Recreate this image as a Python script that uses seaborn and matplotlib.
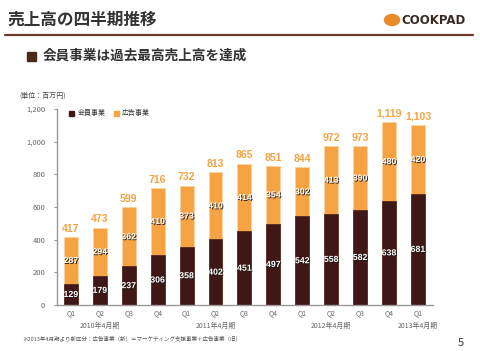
import matplotlib
matplotlib.use("Agg")
import matplotlib.pyplot as plt
import matplotlib.patheffects as pe
from matplotlib.patches import Rectangle, Circle
import seaborn as sns
import pandas as pd
import numpy as np

# ---- data ----
quarters = ["Q1", "Q2", "Q3", "Q4", "Q1", "Q2", "Q3", "Q4", "Q1", "Q2", "Q3", "Q4", "Q1"]
member = [129, 179, 237, 306, 358, 402, 451, 497, 542, 558, 582, 638, 681]
ad = [287, 294, 362, 410, 373, 410, 414, 354, 302, 413, 390, 480, 420]
totals = ["417", "473", "599", "716", "732", "813", "865", "851", "844", "972", "973", "1,119", "1,103"]
fiscal_labels = ["2010年4月期", "2011年4月期", "2012年4月期", "2013年4月期"]
fiscal_pos = [1, 5, 9, 12]
series_names = ["会員事業", "広告事業"]
yticks = [0, 200, 400, 600, 800, 1000, 1200]

BROWN = "#3e1716"
ORANGE = "#f6a443"
GRAY = "#666666"

sns.set_style("white")
plt.rcParams["font.family"] = ["Noto Sans CJK JP", "DejaVu Sans"]

W, H = 480, 351
fig = plt.figure(figsize=(W / 100, H / 100), dpi=100)

def fx(x):
    return x / W

def fy(y):
    return 1 - y / H

ax = fig.add_axes([fx(57), fy(305), fx(433) - fx(57), fy(109) - fy(305)])

n = len(member)
df = pd.DataFrame({
    "pos": [str(i) for i in range(n)],
    "stack": [m + a for m, a in zip(member, ad)],
    "member": member,
})
order = [str(i) for i in range(n)]

sns.barplot(data=df, x="pos", y="stack", order=order, color=ORANGE, width=0.48,
            saturation=1, ax=ax, edgecolor="#f9d3a0", linewidth=0.6)
sns.barplot(data=df, x="pos", y="member", order=order, color=BROWN, width=0.48,
            saturation=1, ax=ax, edgecolor="#5a2a22", linewidth=0.6)

shadow = [pe.SimplePatchShadow(offset=(0.7, -0.7), shadow_rgbFace="#1a1a1a", alpha=0.9), pe.Normal()]
for i in range(n):
    ax.text(i, member[i] / 2, str(member[i]), ha="center", va="center", color="white",
            fontsize=6.3, fontweight="bold", family="Liberation Sans", path_effects=shadow)
    ax.text(i, member[i] + ad[i] / 2, str(ad[i]), ha="center", va="center", color="white",
            fontsize=6.3, fontweight="bold", family="Liberation Sans", path_effects=shadow)
    ax.annotate(totals[i], (i, member[i] + ad[i]), xytext=(0, 2.5), textcoords="offset points",
                ha="center", va="bottom", color=ORANGE, fontsize=7.6, fontweight="bold",
                family="Liberation Sans")

ax.set_xlim(-0.48, n - 0.48)
ax.set_ylim(0, 1200)
ax.set_yticks(yticks)
ax.set_yticklabels([f"{v:,}" for v in yticks])
ax.set_xticks(range(n))
ax.set_xticklabels(quarters)
ax.set_xticks([i - 0.48 for i in range(n + 1)], minor=True)
ax.tick_params(axis="x", which="major", length=0, pad=3, labelsize=5, labelcolor=GRAY)
ax.tick_params(axis="x", which="minor", length=3, width=0.8, color="#999999", direction="out")
ax.tick_params(axis="y", length=2.5, width=0.8, color="#999999", labelsize=5.5,
               labelcolor=GRAY, pad=6, left=True)
ax.set_xlabel("")
ax.set_ylabel("")
for s in ["top", "right"]:
    ax.spines[s].set_visible(False)
for s in ["left", "bottom"]:
    ax.spines[s].set_color("#999999")
    ax.spines[s].set_linewidth(1.0)
ax.grid(False)

for lab, p in zip(fiscal_labels, fiscal_pos):
    ax.text(p, -0.108, lab, transform=ax.get_xaxis_transform(), ha="center", va="center",
            fontsize=5, color=GRAY)

# legend
fig.patches.append(Rectangle((fx(69), fy(116)), 5 / W, 5 / H, transform=fig.transFigure,
                             color=BROWN, figure=fig))
fig.text(fx(78), fy(113.5), series_names[0], fontsize=5, color="#333333", va="center")
fig.patches.append(Rectangle((fx(114), fy(116)), 5 / W, 5 / H, transform=fig.transFigure,
                             color=ORANGE, figure=fig))
fig.text(fx(122), fy(113.5), series_names[1], fontsize=5, color="#333333", va="center")

# unit
fig.text(fx(19), fy(95.5), "(単位：百万円)", fontsize=5, color="#444444", va="center")

# title and header
fig.text(fx(7), fy(20), "売上高の四半期推移", fontsize=12, fontweight="bold", color="#333333", va="center")
fig.add_artist(plt.Line2D([fx(5), fx(473)], [fy(34.5), fy(34.5)], color="#6b3a2e", linewidth=1.6))
fig.patches.append(Rectangle((fx(27), fy(61)), 9 / W, 9 / H, transform=fig.transFigure,
                             color="#4a2a1a", figure=fig))
fig.text(fx(43), fy(56), "会員事業は過去最高売上高を達成", fontsize=9.8, fontweight="bold",
         color="#333333", va="center")

# logo
fig.patches.append(Circle((fx(392), fy(20)), 7.5 / W, transform=fig.transFigure,
                          color="#e8892a", figure=fig))
fig.text(fx(401), fy(20.5), "COOKPAD", fontsize=8.5, fontweight="bold", color="#3a2a22",
         va="center", family="DejaVu Sans")

# footnote & page
fig.text(fx(22), fy(338), "※2013年4月期より新区分：広告事業（新）＝マーケティング支援事業＋広告事業（旧）",
         fontsize=4.0, color="#555555", va="center")
fig.text(fx(461), fy(343), "5", fontsize=8, color="#333333", va="center", ha="center")

fig.savefig("out.png", dpi=100)
